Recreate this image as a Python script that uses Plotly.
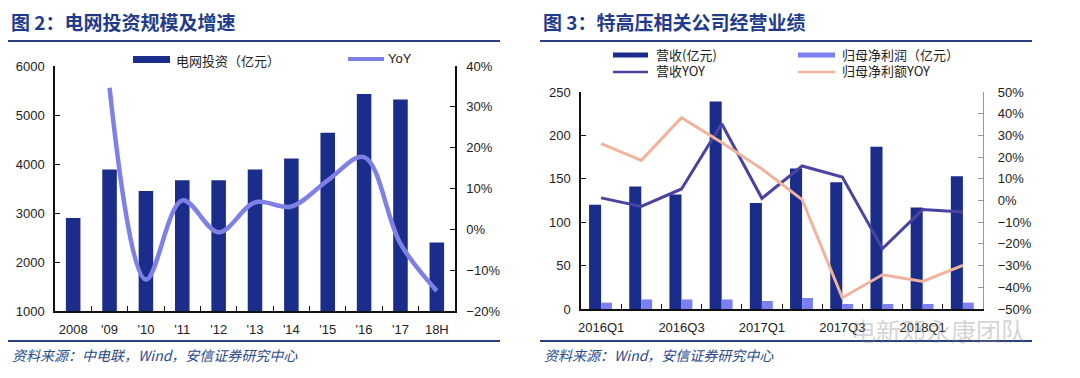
import plotly.graph_objects as go

# ---------------- Figure 2 data ----------------
inv_years = ["2008", "'09", "'10", "'11", "'12", "'13", "'14", "'15", "'16", "'17", "18H"]
inv_values = [2900, 3890, 3450, 3670, 3670, 3890, 4110, 4640, 5430, 5315, 2400]
inv_yoy = [None, 34.7, -12.3, 7.1, -0.7, 6.6, 5.6, 12.0, 17.7, -3.5, -15.1]

# ---------------- Figure 3 data ----------------
quarters = ["2016Q1", "2016Q2", "2016Q3", "2016Q4", "2017Q1",
            "2017Q2", "2017Q3", "2017Q4", "2018Q1", "2018Q2"]
revenue = [120, 141, 132, 239, 122, 162, 146, 187, 117, 153]
net_profit = [7.3, 11, 11, 11, 9.2, 12.7, 5.8, 5.8, 5.8, 7.3]
revenue_yoy = [1.2, -2.7, 5.3, 35.4, 1.0, 15.9, 10.8, -22.2, -4.2, -5.3]
profit_yoy = [26.2, 18.5, 38.2, 26.7, 14.5, 0.4, -44.8, -34.2, -37.3, -29.9]

W, H = 1080, 378
OFF = 8  # page body margin
NAVY = "#1b2d8a"
LIGHT = "#7c7ff0"
YOY_LINE = "#7f80e6"
REV_YOY = "#4a44a0"
PEACH = "#f0b49c"
TITLE_C = "#1f3c8c"
TICK_FONT = dict(family="Liberation Sans, Arial", size=13, color="#222222")
CJK = "Noto Sans CJK SC"


def px(x):
    return (x - OFF) / W


def py(y):
    return 1 - (y - OFF) / H


fig = go.Figure()

# Left chart
xi = list(range(len(inv_years)))
fig.add_trace(go.Bar(x=xi, y=inv_values, width=0.4, marker_color=NAVY,
                     marker_line_width=0, xaxis="x", yaxis="y", showlegend=False))
fig.add_trace(go.Scatter(x=xi, y=inv_yoy, mode="lines",
                         line=dict(color=YOY_LINE, width=4.5, shape="spline", smoothing=1),
                         xaxis="x", yaxis="y2", showlegend=False))

# Right chart
qi = list(range(len(quarters)))
fig.add_trace(go.Bar(x=qi, y=revenue, width=0.3, offset=-0.3, marker_color=NAVY,
                     marker_line_width=0, xaxis="x2", yaxis="y3", showlegend=False))
fig.add_trace(go.Bar(x=qi, y=net_profit, width=0.27, offset=0.0, marker_color=LIGHT,
                     marker_line_width=0, xaxis="x2", yaxis="y3", showlegend=False))
fig.add_trace(go.Scatter(x=qi, y=revenue_yoy, mode="lines",
                         line=dict(color=REV_YOY, width=3), xaxis="x2", yaxis="y4",
                         showlegend=False))
fig.add_trace(go.Scatter(x=qi, y=profit_yoy, mode="lines",
                         line=dict(color=PEACH, width=3), xaxis="x2", yaxis="y4",
                         showlegend=False))

axis_common = dict(showgrid=False, zeroline=False, showline=True, linecolor="#111111",
                   linewidth=1.5, tickfont=TICK_FONT, fixedrange=True, automargin=False)

fig.update_layout(
    width=W, height=H,
    margin=dict(l=0, r=0, t=0, b=0, autoexpand=False),
    paper_bgcolor="white", plot_bgcolor="white",
    barmode="overlay",
    xaxis=dict(domain=[px(55), px(455)], anchor="y", range=[-0.5, len(inv_years) - 0.5],
               tickmode="array", tickvals=xi, ticktext=inv_years, ticks="",
               ticklabelstandoff=6,
               minor=dict(tickvals=[i + 0.5 for i in xi[:-1]], ticks="inside",
                          ticklen=5, tickcolor="#111111", tickwidth=1),
               **axis_common),
    yaxis=dict(domain=[py(311), py(66)], anchor="x", range=[1000, 6000], dtick=1000,
               ticks="inside", ticklen=5, tickcolor="#111111", ticklabelstandoff=6,
               **axis_common),
    yaxis2=dict(overlaying="y", side="right", anchor="x", range=[-20, 40], dtick=10,
                ticksuffix="%", ticks="inside", ticklen=5, tickcolor="#111111",
                ticklabelstandoff=7, **axis_common),
    xaxis2=dict(domain=[px(581), px(983)], anchor="y3", range=[-0.5, len(quarters) - 0.5],
                tickmode="array", tickvals=qi[::2], ticktext=quarters[::2], ticks="",
                ticklabelstandoff=6,
                minor=dict(tickvals=[i + 0.5 for i in qi[:-1]], ticks="inside",
                           ticklen=5, tickcolor="#111111", tickwidth=1),
                **axis_common),
    yaxis3=dict(domain=[py(309), py(92)], anchor="x2", range=[0, 250], dtick=50,
                ticks="inside", ticklen=5, tickcolor="#111111", ticklabelstandoff=6,
                **axis_common),
    yaxis4=dict(overlaying="y3", side="right", anchor="x2", range=[-50, 50], dtick=10,
                ticksuffix="%", ticks="inside", ticklen=5, tickcolor="#999999",
                ticklabelstandoff=11,
                **{**axis_common, "linecolor": "#999999", "linewidth": 1.2}),
)

shapes = []
annotations = []

# Titles and separator lines
for x0, x1, title in [(8, 500, "图 2：电网投资规模及增速"), (540, 1032, "图 3：特高压相关公司经营业绩")]:
    shapes.append(dict(type="line", xref="paper", yref="paper", x0=px(x0), x1=px(x1),
                       y0=py(41), y1=py(41), line=dict(color="#2a3f80", width=2)))
    shapes.append(dict(type="line", xref="paper", yref="paper", x0=px(x0), x1=px(x1),
                       y0=py(341), y1=py(341), line=dict(color="#2a3f80", width=2)))
    annotations.append(dict(text="<b>" + title + "</b>", xref="paper", yref="paper",
                            x=px(x0 + 1), y=py(22), xanchor="left", yanchor="middle",
                            showarrow=False,
                            font=dict(family=CJK, size=19, color=TITLE_C)))

# Sources
annotations.append(dict(text="<i>资料来源：中电联，Wind，安信证券研究中心</i>", xref="paper",
                        yref="paper", x=px(10), y=py(355), xanchor="left", yanchor="middle",
                        showarrow=False, font=dict(family=CJK, size=14, color="#2a4a8c")))
annotations.append(dict(text="<i>资料来源：Wind，安信证券研究中心</i>", xref="paper",
                        yref="paper", x=px(542), y=py(355), xanchor="left", yanchor="middle",
                        showarrow=False, font=dict(family=CJK, size=14, color="#2a4a8c")))

# Left legend
shapes.append(dict(type="rect", xref="paper", yref="paper", x0=px(133), x1=px(170),
                   y0=py(63), y1=py(56), fillcolor=NAVY, line_width=0))
annotations.append(dict(text="电网投资（亿元）", xref="paper", yref="paper", x=px(174), y=py(60),
                        xanchor="left", yanchor="middle", showarrow=False,
                        font=dict(family=CJK, size=13, color="#222222")))
shapes.append(dict(type="line", xref="paper", yref="paper", x0=px(348), x1=px(384),
                   y0=py(59), y1=py(59), line=dict(color=YOY_LINE, width=4)))
annotations.append(dict(text="YoY", xref="paper", yref="paper", x=px(386), y=py(58),
                        xanchor="left", yanchor="middle", showarrow=False,
                        font=dict(family="Liberation Sans, Arial", size=13, color="#222222")))

# Right legend
shapes.append(dict(type="rect", xref="paper", yref="paper", x0=px(613), x1=px(648),
                   y0=py(57.5), y1=py(52.5), fillcolor=NAVY, line_width=0))
shapes.append(dict(type="rect", xref="paper", yref="paper", x0=px(798), x1=px(835),
                   y0=py(57.5), y1=py(52.5), fillcolor=LIGHT, line_width=0))
shapes.append(dict(type="line", xref="paper", yref="paper", x0=px(613), x1=px(648),
                   y0=py(72), y1=py(72), line=dict(color=REV_YOY, width=2.5)))
shapes.append(dict(type="line", xref="paper", yref="paper", x0=px(798), x1=px(835),
                   y0=py(72), y1=py(72), line=dict(color=PEACH, width=2.5)))
for x, y, t in [(654, 55, "营收(亿元)"), (840, 55, "归母净利润（亿元）"),
                (654, 71, "营收YOY"), (840, 71, "归母净利额YOY")]:
    annotations.append(dict(text=t, xref="paper", yref="paper", x=px(x), y=py(y),
                            xanchor="left", yanchor="middle", showarrow=False,
                            font=dict(family=CJK, size=13, color="#222222")))

# Watermark
annotations.append(dict(text="电新邓永康团队", xref="paper", yref="paper", x=px(938), y=py(330),
                        xanchor="center", yanchor="middle", showarrow=False,
                        font=dict(family=CJK, size=25, color="rgba(130,130,130,0.35)")))

fig.update_layout(shapes=shapes, annotations=annotations)
fig.write_html("out.html")
